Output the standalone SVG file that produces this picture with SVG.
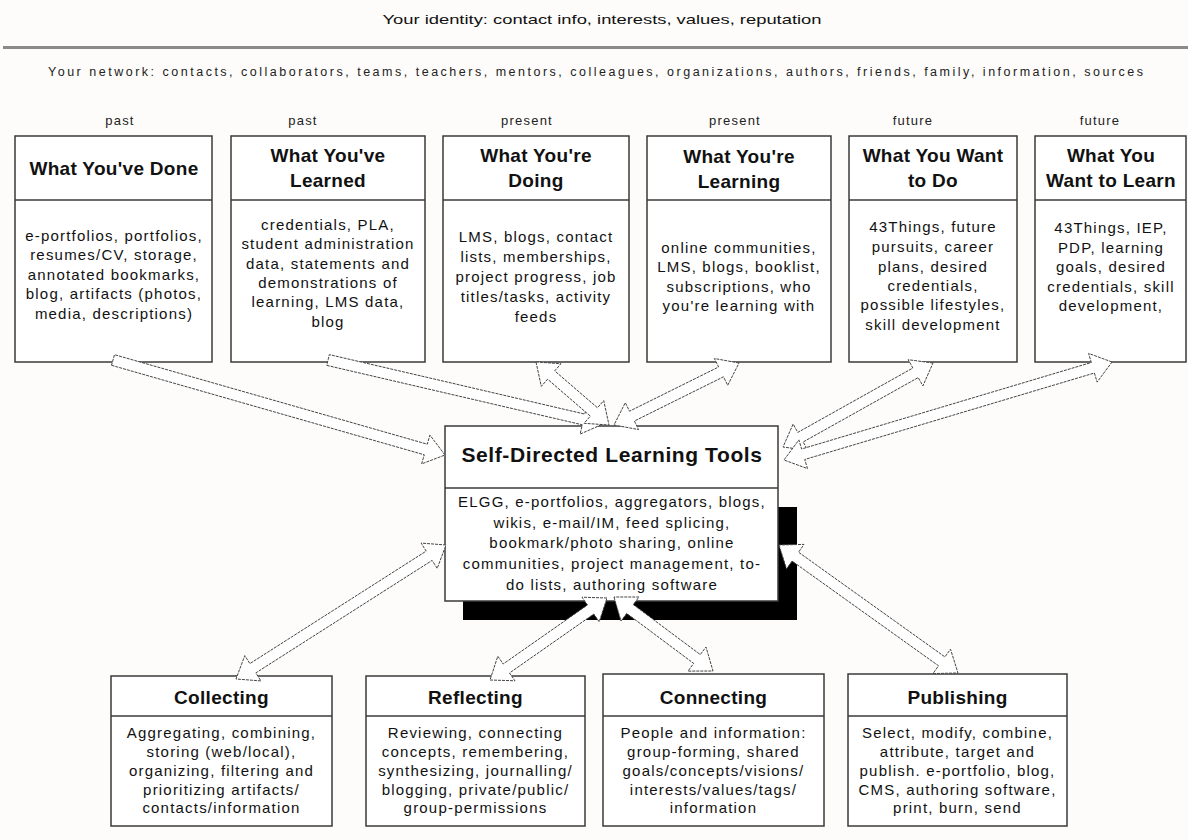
<svg xmlns="http://www.w3.org/2000/svg" width="1188" height="840" viewBox="0 0 1188 840">
  <style>
    .bg { fill: #fdfcfa; }
    .box { fill: #ffffff; stroke: #3a3a3a; stroke-width: 1.5; }
    .div { stroke: #3a3a3a; stroke-width: 1.5; }
    .hd { font-family: "Liberation Sans", Arial, sans-serif; font-weight: bold; font-size: 19px; letter-spacing: 0.3px; fill: #111; text-anchor: middle; }
    .ttl { font-family: "Liberation Sans", Arial, sans-serif; font-weight: bold; font-size: 21px; letter-spacing: 0.6px; fill: #111; text-anchor: middle; }
    .bd { font-family: "Liberation Sans", Arial, sans-serif; font-size: 15px; letter-spacing: 1.2px; fill: #111; text-anchor: middle; }
    .sm { font-family: "Liberation Sans", Arial, sans-serif; font-size: 13px; letter-spacing: 1.2px; fill: #222; text-anchor: middle; }
    .arrow { fill: #ffffff; stroke: #444; stroke-width: 1; stroke-dasharray: 3 1; stroke-linejoin: miter; }
  </style>

  <rect class="bg" x="0" y="0" width="1188" height="840"/>

  <!-- identity and network banner -->
  <g id="banner">
    <text x="602" y="24" font-family="'Liberation Sans', Arial, sans-serif" font-size="13" fill="#111" textLength="439" lengthAdjust="spacingAndGlyphs" text-anchor="middle">Your identity:  contact info, interests, values, reputation</text>
    <rect x="3" y="46" width="1185" height="3" fill="#8a8a8a"/>
    <text x="48" y="76" font-family="'Liberation Sans', Arial, sans-serif" font-size="12.5" fill="#222" textLength="1095" lengthAdjust="spacing">Your network:  contacts, collaborators, teams, teachers, mentors, colleagues, organizations, authors, friends, family, information, sources</text>
  </g>

  <!-- time labels -->
  <g id="time-labels">
    <text class="sm" x="120" y="125">past</text>
    <text class="sm" x="303" y="125">past</text>
    <text class="sm" x="527" y="125">present</text>
    <text class="sm" x="735" y="125">present</text>
    <text class="sm" x="913" y="125">future</text>
    <text class="sm" x="1100" y="125">future</text>
  </g>

  <!-- top row -->
  <g id="done">
    <rect class="box" x="15" y="136" width="197" height="226"/>
    <line class="div" x1="15" y1="200" x2="212" y2="200"/>
    <text class="hd" x="114" y="175">What You've Done</text>
    <text class="bd" x="114" y="241">e-portfolios, portfolios,</text>
    <text class="bd" x="114" y="260">resumes/CV, storage,</text>
    <text class="bd" x="114" y="280">annotated bookmarks,</text>
    <text class="bd" x="114" y="299">blog, artifacts (photos,</text>
    <text class="bd" x="114" y="319">media, descriptions)</text>
  </g>

  <g id="learned">
    <rect class="box" x="231" y="136" width="194" height="226"/>
    <line class="div" x1="231" y1="200" x2="425" y2="200"/>
    <text class="hd" x="328" y="162">What You've</text>
    <text class="hd" x="328" y="187">Learned</text>
    <text class="bd" x="328" y="230">credentials, PLA,</text>
    <text class="bd" x="328" y="249">student administration</text>
    <text class="bd" x="328" y="269">data, statements and</text>
    <text class="bd" x="328" y="288">demonstrations of</text>
    <text class="bd" x="328" y="307">learning, LMS data,</text>
    <text class="bd" x="328" y="327">blog</text>
  </g>

  <g id="doing">
    <rect class="box" x="443" y="136" width="186" height="226"/>
    <line class="div" x1="443" y1="200" x2="629" y2="200"/>
    <text class="hd" x="536" y="162">What You're</text>
    <text class="hd" x="536" y="187">Doing</text>
    <text class="bd" x="536" y="242">LMS, blogs, contact</text>
    <text class="bd" x="536" y="262">lists,  memberships,</text>
    <text class="bd" x="536" y="282">project progress, job</text>
    <text class="bd" x="536" y="302">titles/tasks, activity</text>
    <text class="bd" x="536" y="322">feeds</text>
  </g>

  <g id="learning">
    <rect class="box" x="647" y="136" width="184" height="226"/>
    <line class="div" x1="647" y1="200" x2="831" y2="200"/>
    <text class="hd" x="739" y="163">What You're</text>
    <text class="hd" x="739" y="188">Learning</text>
    <text class="bd" x="739" y="253">online communities,</text>
    <text class="bd" x="739" y="272">LMS, blogs, booklist,</text>
    <text class="bd" x="739" y="292">subscriptions, who</text>
    <text class="bd" x="739" y="311">you're learning with</text>
  </g>

  <g id="want-do">
    <rect class="box" x="849" y="136" width="168" height="226"/>
    <line class="div" x1="849" y1="200" x2="1017" y2="200"/>
    <text class="hd" x="933" y="162">What You Want</text>
    <text class="hd" x="933" y="187">to Do</text>
    <text class="bd" x="933" y="232">43Things, future</text>
    <text class="bd" x="933" y="252">pursuits, career</text>
    <text class="bd" x="933" y="272">plans, desired</text>
    <text class="bd" x="933" y="291">credentials,</text>
    <text class="bd" x="933" y="310">possible lifestyles,</text>
    <text class="bd" x="933" y="330">skill development</text>
  </g>

  <g id="want-learn">
    <rect class="box" x="1035" y="136" width="151" height="226"/>
    <line class="div" x1="1035" y1="200" x2="1186" y2="200"/>
    <text class="hd" x="1111" y="162">What You</text>
    <text class="hd" x="1111" y="187">Want to Learn</text>
    <text class="bd" x="1111" y="233">43Things, IEP,</text>
    <text class="bd" x="1111" y="253">PDP, learning</text>
    <text class="bd" x="1111" y="272">goals, desired</text>
    <text class="bd" x="1111" y="292">credentials, skill</text>
    <text class="bd" x="1111" y="311">development,</text>
  </g>

  <!-- central hub with drop shadow -->
  <g id="tools">
    <rect x="463" y="507" width="334" height="113" fill="#000"/>
    <rect class="box" x="445" y="426" width="333" height="175"/>
    <line class="div" x1="445" y1="488" x2="778" y2="488"/>
    <text class="ttl" x="612" y="462">Self-Directed Learning Tools</text>
    <text class="bd" x="612" y="507">ELGG, e-portfolios, aggregators, blogs,</text>
    <text class="bd" x="612" y="528">wikis, e-mail/IM, feed splicing,</text>
    <text class="bd" x="612" y="548">bookmark/photo sharing, online</text>
    <text class="bd" x="612" y="569">communities, project management, to-</text>
    <text class="bd" x="612" y="590">do lists, authoring software</text>
  </g>

  <!-- bottom row -->
  <g id="collecting">
    <rect class="box" x="111" y="676" width="221" height="150"/>
    <line class="div" x1="111" y1="716" x2="332" y2="716"/>
    <text class="hd" x="221.5" y="704">Collecting</text>
    <text class="bd" x="221.5" y="738">Aggregating, combining,</text>
    <text class="bd" x="221.5" y="757">storing (web/local),</text>
    <text class="bd" x="221.5" y="776">organizing, filtering and</text>
    <text class="bd" x="221.5" y="795">prioritizing artifacts/</text>
    <text class="bd" x="221.5" y="813">contacts/information</text>
  </g>

  <g id="reflecting">
    <rect class="box" x="366" y="676" width="219" height="150"/>
    <line class="div" x1="366" y1="716" x2="585" y2="716"/>
    <text class="hd" x="475.5" y="704">Reflecting</text>
    <text class="bd" x="475.5" y="738">Reviewing, connecting</text>
    <text class="bd" x="475.5" y="757">concepts, remembering,</text>
    <text class="bd" x="475.5" y="776">synthesizing, journalling/</text>
    <text class="bd" x="475.5" y="795">blogging, private/public/</text>
    <text class="bd" x="475.5" y="813">group-permissions</text>
  </g>

  <g id="connecting">
    <rect class="box" x="603" y="674" width="221" height="152"/>
    <line class="div" x1="603" y1="716" x2="824" y2="716"/>
    <text class="hd" x="713.5" y="704">Connecting</text>
    <text class="bd" x="713.5" y="738">People and information:</text>
    <text class="bd" x="713.5" y="757">group-forming,  shared</text>
    <text class="bd" x="713.5" y="776">goals/concepts/visions/</text>
    <text class="bd" x="713.5" y="795">interests/values/tags/</text>
    <text class="bd" x="713.5" y="813">information</text>
  </g>

  <g id="publishing">
    <rect class="box" x="848" y="674" width="219" height="152"/>
    <line class="div" x1="848" y1="716" x2="1067" y2="716"/>
    <text class="hd" x="957.5" y="704">Publishing</text>
    <text class="bd" x="957.5" y="738">Select, modify, combine,</text>
    <text class="bd" x="957.5" y="757">attribute, target and</text>
    <text class="bd" x="957.5" y="776">publish. e-portfolio, blog,</text>
    <text class="bd" x="957.5" y="795">CMS, authoring software,</text>
    <text class="bd" x="957.5" y="813">print, burn, send</text>
  </g>

  <!-- hollow block arrows -->
  <g id="connectors">
    <polygon class="arrow" points="111.5,365.3 424.3,454.8 421.6,463.9 445,455 429.9,435.1 427.3,444.2 114.5,354.7"/>
    <polygon class="arrow" points="326.8,365.4 582.3,424.8 580.1,434.1 603,424 586.9,404.9 584.8,414.1 329.3,354.6"/>
    <polygon class="arrow" points="536,362 541.3,386.4 547.6,379.2 590.3,416.1 584.1,423.3 609,425 603.7,400.6 597.5,407.8 554.7,370.9 560.9,363.7"/>
    <polygon class="arrow" points="739,363 714.4,358.5 718.6,367 629.5,411.2 625.3,402.7 614,425 638.6,429.6 634.4,421 723.5,376.8 727.7,385.3"/>
    <polygon class="arrow" points="933,363 908.2,359.7 912.9,368 797.8,432.4 793.1,424.1 783,447 807.8,450.3 803.1,442 918.2,377.6 922.9,385.9"/>
    <polygon class="arrow" points="1112,362 1088.6,353.4 1091.3,362.5 801.6,449 798.9,439.9 784,460 807.5,468.6 804.7,459.5 1094.4,373 1097.1,382.1"/>
    <polygon class="arrow" points="446,545 421.1,543.1 426.2,551.1 249.9,663.6 244.8,655.6 236,679 260.9,680.9 255.8,672.9 432.1,560.4 437.2,568.4"/>
    <polygon class="arrow" points="607,598 582,597.2 587.5,605 503.2,664 497.8,656.2 490,680 515,680.8 509.5,673 593.8,614 599.2,621.8"/>
    <polygon class="arrow" points="614,597 621,621 626.7,613.4 693.7,663.4 688,671.1 713,671 706,647 700.3,654.6 633.3,604.6 639,597"/>
    <polygon class="arrow" points="779,545 786.5,568.8 792.1,561.1 938.5,665.8 933,673.6 958,673 950.5,649.2 944.9,656.9 798.5,552.2 804,544.4"/>
  </g>
</svg>
